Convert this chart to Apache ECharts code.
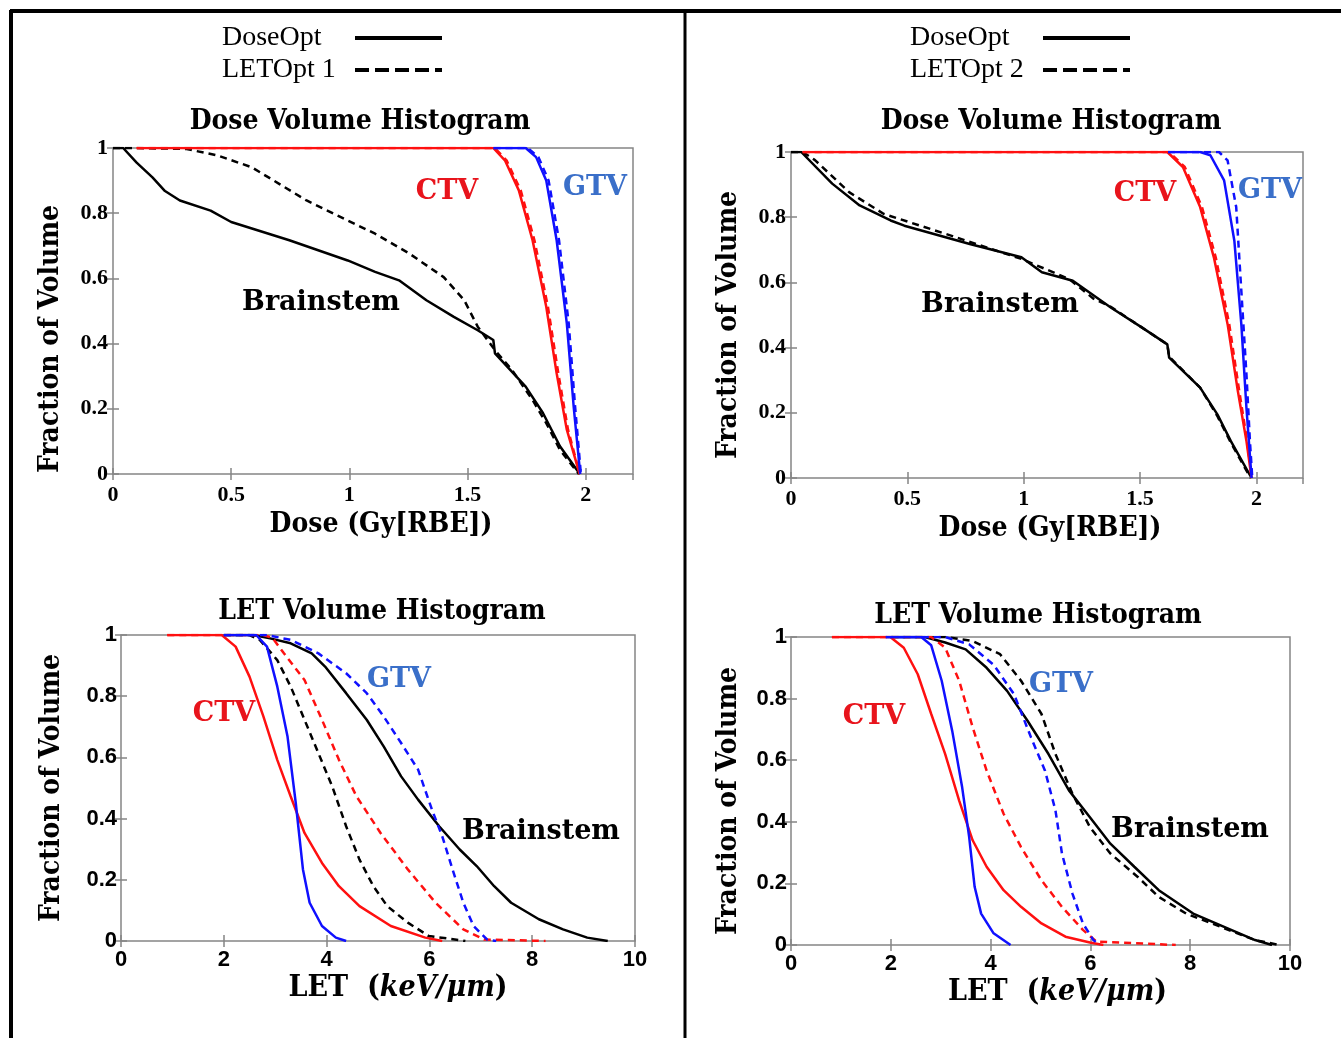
<!DOCTYPE html>
<html>
<head>
<meta charset="utf-8">
<script src="https://cdn.jsdelivr.net/npm/echarts@6/dist/echarts.min.js"></script>
<style>
html, body { margin: 0; padding: 0; background: #fff; }
#main { width: 1341px; height: 1038px; }
</style>
</head>
<body>
<div id="main"></div>
<script>
// ---------- data ----------
// top row: Dose Volume Histogram, [dose Gy(RBE), fraction of volume]
var doseBrainDose1 = [[0,1],[0.043,1],[0.1,0.955],[0.167,0.91],[0.22,0.868],[0.283,0.839],[0.413,0.808],[0.5,0.773],[0.746,0.717],[0.993,0.655],[1.109,0.62],[1.21,0.594],[1.326,0.533],[1.442,0.482],[1.543,0.441],[1.609,0.411],[1.616,0.37],[1.746,0.268],[1.819,0.187],[1.891,0.085],[1.975,0]];
var doseBrainLet1 = [[0,1],[0.1,1],[0.312,0.997],[0.442,0.977],[0.587,0.941],[0.703,0.89],[0.819,0.839],[0.964,0.788],[1.109,0.737],[1.254,0.676],[1.399,0.604],[1.486,0.533],[1.543,0.452],[1.616,0.38],[1.688,0.319],[1.775,0.227],[1.833,0.156],[1.891,0.074],[1.971,0]];
var doseCtvDose1 = [[0.1,1],[1.609,1],[1.659,0.961],[1.717,0.87],[1.775,0.717],[1.833,0.513],[1.877,0.309],[1.92,0.136],[1.971,0.008],[1.975,0]];
var doseCtvLet1 = [[0.1,1],[1.615,1],[1.665,0.962],[1.725,0.87],[1.783,0.717],[1.84,0.513],[1.884,0.309],[1.925,0.136],[1.972,0.008],[1.976,0]];
var doseGtvDose1 = [[1.61,1],[1.746,1],[1.79,0.972],[1.833,0.9],[1.877,0.717],[1.92,0.462],[1.949,0.207],[1.975,0.013],[1.977,0]];
var doseGtvLet1 = [[1.61,1],[1.755,1],[1.8,0.972],[1.843,0.9],[1.887,0.717],[1.928,0.462],[1.955,0.207],[1.978,0.013],[1.98,0]];

var doseBrainDose2 = [[0,1],[0.044,1],[0.177,0.903],[0.295,0.836],[0.428,0.79],[0.487,0.774],[0.768,0.718],[0.99,0.677],[1.078,0.631],[1.211,0.605],[1.374,0.523],[1.507,0.462],[1.617,0.41],[1.625,0.369],[1.758,0.277],[1.832,0.195],[1.89,0.113],[1.979,0]];
var doseBrainLet2 = [[0,1],[0.05,1],[0.103,0.975],[0.251,0.876],[0.399,0.81],[0.694,0.742],[0.99,0.672],[1.196,0.61],[1.3,0.55],[1.374,0.525],[1.507,0.462],[1.617,0.41],[1.625,0.372],[1.758,0.277],[1.832,0.19],[1.89,0.108],[1.975,0]];
var doseCtvDose2 = [[0.05,1],[1.617,1],[1.684,0.954],[1.758,0.831],[1.817,0.677],[1.876,0.472],[1.92,0.267],[1.957,0.113],[1.979,0]];
var doseCtvLet2 = [[0.05,1],[1.625,1],[1.692,0.954],[1.766,0.831],[1.825,0.677],[1.883,0.472],[1.926,0.267],[1.96,0.113],[1.98,0]];
var doseGtvDose2 = [[1.62,1],[1.758,1],[1.802,0.99],[1.861,0.913],[1.905,0.728],[1.935,0.472],[1.957,0.215],[1.979,0]];
var doseGtvLet2 = [[1.62,1],[1.839,1],[1.876,0.974],[1.913,0.831],[1.935,0.574],[1.957,0.318],[1.972,0.113],[1.982,0]];

// bottom row: LET Volume Histogram, [LET keV/um, fraction of volume]
var letCtvDose1 = [[0.9,1],[1.96,1],[2.23,0.962],[2.5,0.864],[2.77,0.734],[3.04,0.592],[3.3,0.473],[3.57,0.353],[3.91,0.255],[4.24,0.179],[4.64,0.114],[5.25,0.049],[5.92,0.011],[6.25,0]];
var letCtvLet1 = [[0.9,1],[2.77,1],[2.95,0.99],[3.17,0.94],[3.57,0.853],[3.91,0.723],[4.24,0.592],[4.58,0.473],[5.05,0.353],[5.58,0.234],[6.12,0.125],[6.66,0.038],[7.06,0.005],[8.26,0]];
var letGtvDose1 = [[2.0,1],[2.63,1],[2.84,0.962],[3.04,0.832],[3.24,0.668],[3.4,0.451],[3.54,0.234],[3.67,0.125],[3.91,0.049],[4.18,0.011],[4.38,0]];
var letGtvLet1 = [[2.0,1],[2.84,1],[3.3,0.984],[3.84,0.94],[4.38,0.875],[4.78,0.81],[5.11,0.734],[5.45,0.647],[5.78,0.56],[6.05,0.429],[6.25,0.342],[6.45,0.234],[6.66,0.125],[6.86,0.049],[7.12,0.005],[7.3,0]];
var letBrainDose1 = [[2.0,1],[2.57,1],[2.9,0.989],[3.3,0.973],[3.71,0.94],[3.97,0.897],[4.38,0.81],[4.78,0.723],[5.11,0.636],[5.45,0.538],[5.78,0.462],[6.19,0.375],[6.59,0.299],[6.92,0.245],[7.26,0.179],[7.59,0.125],[8.13,0.071],[8.6,0.038],[9.07,0.011],[9.47,0]];
var letBrainLet1 = [[2.0,1],[2.5,1],[2.7,0.984],[3.04,0.918],[3.3,0.832],[3.57,0.723],[3.84,0.614],[4.11,0.505],[4.38,0.375],[4.64,0.266],[4.91,0.179],[5.18,0.114],[5.58,0.06],[5.99,0.016],[6.59,0.003],[6.7,0]];

var letCtvDose2 = [[0.82,1],[1.99,1],[2.26,0.965],[2.54,0.879],[2.81,0.75],[3.09,0.62],[3.37,0.469],[3.64,0.34],[3.92,0.254],[4.26,0.178],[4.61,0.124],[5.02,0.07],[5.5,0.027],[5.99,0.008],[6.26,0]];
var letCtvLet2 = [[0.82,1],[2.81,1],[3.09,0.965],[3.37,0.858],[3.64,0.707],[3.92,0.566],[4.26,0.426],[4.61,0.318],[5.02,0.21],[5.43,0.124],[5.85,0.049],[6.12,0.011],[7.71,0]];
var letGtvDose2 = [[1.9,1],[2.61,1],[2.81,0.973],[3.02,0.858],[3.23,0.696],[3.43,0.512],[3.57,0.351],[3.68,0.189],[3.81,0.102],[4.06,0.038],[4.4,0]];
var letGtvLet2 = [[1.9,1],[3.09,1],[3.57,0.976],[4.06,0.91],[4.47,0.814],[4.81,0.674],[5.09,0.566],[5.3,0.437],[5.43,0.297],[5.64,0.167],[5.85,0.07],[6.06,0.016],[6.19,0]];
var letBrainDose2 = [[2.0,1],[2.68,1],[3.09,0.982],[3.5,0.96],[3.92,0.9],[4.33,0.825],[4.74,0.728],[5.16,0.62],[5.57,0.502],[5.99,0.415],[6.4,0.329],[6.88,0.254],[7.37,0.178],[8.06,0.102],[8.68,0.059],[9.3,0.016],[9.64,0]];
var letBrainLet2 = [[2.0,1],[3.09,1],[3.64,0.987],[4.19,0.944],[4.61,0.858],[5.02,0.75],[5.3,0.62],[5.64,0.491],[5.99,0.383],[6.4,0.297],[6.95,0.221],[7.37,0.156],[7.92,0.102],[8.61,0.059],[9.3,0.016],[9.78,0]];

var legendNames1 = ['DoseOpt', 'LETOpt 1'];
var legendNames2 = ['DoseOpt', 'LETOpt 2'];

// ---------- styles ----------
var RED = '#ff1010', BLUE = '#1010ff', BLACK = '#000';
var GRAY = '#858585';
var condFont = '"DejaVu Serif Condensed", "DejaVu Serif", serif';
var doseTick = { fontFamily: 'Liberation Serif', fontWeight: 'bold', fontSize: 22, color: '#000' };
var letTick = { fontFamily: 'Liberation Sans', fontWeight: 'bold', fontSize: 22, color: '#000' };
var nameFont = { fontFamily: condFont, fontWeight: 'bold', fontSize: 28, color: '#000' };

var grids = [
    { left: 113, top: 148, width: 520, height: 326 },
    { left: 791, top: 152, width: 512, height: 326 },
    { left: 121, top: 635, width: 514, height: 306 },
    { left: 791, top: 637, width: 499, height: 308 }
];

var tick = { inside: true, length: 6, lineStyle: { color: GRAY, width: 1.5 } };

var xAxes = [], yAxes = [];
function addAxes(g, xmax, xint, lbl, xname, xGap, xShift, yGap, yShift, lblMargin, yLblMargin) {
    // bottom / left axes carry labels, top / right only mirror the ticks
    xAxes.push({
        gridIndex: g, type: 'value', min: 0, max: xmax, interval: xint,
        axisLine: { show: false }, axisTick: tick, splitLine: { show: false },
        axisLabel: Object.assign({ margin: lblMargin, showMaxLabel: xmax === 10 }, lbl),
        name: xname, nameLocation: 'middle', nameGap: xGap,
        nameTextStyle: Object.assign({ padding: [0, 0, 0, xShift] }, nameFont)
    });
    xAxes.push({
        gridIndex: g, type: 'value', position: 'top', min: 0, max: xmax, interval: xint,
        axisLine: { show: false }, axisTick: tick, splitLine: { show: false }, axisLabel: { show: false }
    });
    yAxes.push({
        gridIndex: g, type: 'value', min: 0, max: 1, interval: 0.2,
        axisLine: { show: false }, axisTick: tick, splitLine: { show: false },
        axisLabel: Object.assign({ margin: yLblMargin }, lbl),
        name: 'Fraction of Volume', nameLocation: 'middle', nameRotate: 90, nameGap: yGap,
        nameTextStyle: Object.assign({ padding: [0, yShift, 0, 0] }, nameFont)
    });
    yAxes.push({
        gridIndex: g, type: 'value', position: 'right', min: 0, max: 1, interval: 0.2,
        axisLine: { show: false }, axisTick: tick, splitLine: { show: false }, axisLabel: { show: false }
    });
}
addAxes(0, 2.2, 0.5, doseTick, 'Dose (Gy[RBE])', 37, 16, 48, 56, 10, 5);
addAxes(1, 2.2, 0.5, doseTick, 'Dose (Gy[RBE])', 37, 6, 48, 20, 10, 5);
addAxes(2, 10, 2, letTick, 'LET (keV/μm)', 32, 40, 55, 0, 8, 4);
addAxes(3, 10, 2, letTick, 'LET (keV/μm)', 32, 34, 48, 20, 8, 4);

// LET axis name with italic units
[4, 6].forEach(function (i) {
    xAxes[i].name = '{a|LET  (}{b|keV/μm}{a|)}';
    xAxes[i].nameTextStyle.rich = {
        a: { fontFamily: condFont, fontWeight: 'bold', fontSize: 30, color: '#000' },
        b: { fontFamily: condFont, fontWeight: 'bold', fontStyle: 'italic', fontSize: 30, color: '#000' }
    };
});

function line(name, g, data, color, dashed) {
    return {
        name: name, type: 'line', xAxisIndex: g * 2, yAxisIndex: g * 2,
        data: data, symbol: 'none', smooth: false, animation: false,
        lineStyle: { color: color, width: 2.5, type: dashed ? [7, 5] : 'solid' },
        itemStyle: { color: color }
    };
}

var series = [
    line('DoseOpt', 0, doseBrainDose1, BLACK, false),
    line('LETOpt 1', 0, doseBrainLet1, BLACK, true),
    line('DoseOpt', 0, doseCtvDose1, RED, false),
    line('LETOpt 1', 0, doseCtvLet1, RED, true),
    line('DoseOpt', 0, doseGtvDose1, BLUE, false),
    line('LETOpt 1', 0, doseGtvLet1, BLUE, true),

    line('DoseOpt', 1, doseBrainDose2, BLACK, false),
    line('LETOpt 2', 1, doseBrainLet2, BLACK, true),
    line('DoseOpt', 1, doseCtvDose2, RED, false),
    line('LETOpt 2', 1, doseCtvLet2, RED, true),
    line('DoseOpt', 1, doseGtvDose2, BLUE, false),
    line('LETOpt 2', 1, doseGtvLet2, BLUE, true),

    line('DoseOpt', 2, letBrainDose1, BLACK, false),
    line('LETOpt 1', 2, letBrainLet1, BLACK, true),
    line('DoseOpt', 2, letCtvDose1, RED, false),
    line('LETOpt 1', 2, letCtvLet1, RED, true),
    line('DoseOpt', 2, letGtvDose1, BLUE, false),
    line('LETOpt 1', 2, letGtvLet1, BLUE, true),

    line('DoseOpt', 3, letBrainDose2, BLACK, false),
    line('LETOpt 2', 3, letBrainLet2, BLACK, true),
    line('DoseOpt', 3, letCtvDose2, RED, false),
    line('LETOpt 2', 3, letCtvLet2, RED, true),
    line('DoseOpt', 3, letGtvDose2, BLUE, false),
    line('LETOpt 2', 3, letGtvLet2, BLUE, true)
];

function legend(names, left) {
    var hide = { opacity: 0, color: 'transparent', borderWidth: 0 };
    return {
        orient: 'vertical', left: left, top: 24, padding: 0, itemGap: 4,
        align: 'right', itemWidth: 87, itemHeight: 14, selectedMode: false,
        formatter: '{n|{name}}',
        textStyle: { rich: { n: { width: 128, align: 'left', fontFamily: 'Liberation Serif', fontSize: 28, lineHeight: 30, color: '#000' } } },
        itemStyle: hide,
        lineStyle: { color: '#000', width: 4 },
        data: [
            { name: names[0], itemStyle: hide, lineStyle: { type: 'solid', color: '#000', width: 4 } },
            { name: names[1], itemStyle: hide, lineStyle: { type: [14, 6], color: '#000', width: 4 } }
        ]
    };
}

function title(text, cx, top) {
    return {
        text: text, left: cx, top: top, textAlign: 'center', padding: 0,
        textStyle: { fontFamily: condFont, fontWeight: 'bold', fontSize: 28, color: '#000' }
    };
}

function label(text, x, y, color) {
    return {
        type: 'text', x: x, y: y, z: 100,
        style: { text: text, fill: color, font: 'bold 27px "DejaVu Serif"', align: 'center', verticalAlign: 'middle' }
    };
}

var chart = echarts.init(document.getElementById('main'));
chart.setOption({
    animation: false,
    backgroundColor: '#fff',
    title: [
        title('Dose Volume Histogram', 360, 108),
        title('Dose Volume Histogram', 1051, 108),
        title('LET Volume Histogram', 382, 598),
        title('LET Volume Histogram', 1038, 602)
    ],
    legend: [legend(legendNames1, 222), legend(legendNames2, 910)],
    grid: grids.map(function (g) {
        return Object.assign({ show: true, borderColor: GRAY, borderWidth: 1.5, backgroundColor: 'transparent' }, g);
    }),
    xAxis: xAxes,
    yAxis: yAxes,
    series: series,
    graphic: [
        // figure frame
        { type: 'line', shape: { x1: 10, y1: 11, x2: 1341, y2: 11 }, style: { stroke: '#000', lineWidth: 4 } },
        { type: 'line', shape: { x1: 11, y1: 10, x2: 11, y2: 1038 }, style: { stroke: '#000', lineWidth: 4 } },
        { type: 'line', shape: { x1: 685, y1: 10, x2: 685, y2: 1038 }, style: { stroke: '#000', lineWidth: 3 } },
        label('CTV', 447, 192, '#e8141c'),
        label('GTV', 595, 188, '#3a6fc9'),
        label('Brainstem', 321, 303, '#000'),
        label('CTV', 1145, 194, '#e8141c'),
        label('GTV', 1270, 191, '#3a6fc9'),
        label('Brainstem', 1000, 305, '#000'),
        label('CTV', 224, 714, '#e8141c'),
        label('GTV', 399, 680, '#3a6fc9'),
        label('Brainstem', 541, 832, '#000'),
        label('CTV', 874, 717, '#e8141c'),
        label('GTV', 1061, 685, '#3a6fc9'),
        label('Brainstem', 1190, 830, '#000')
    ]
});
</script>
</body>
</html>
